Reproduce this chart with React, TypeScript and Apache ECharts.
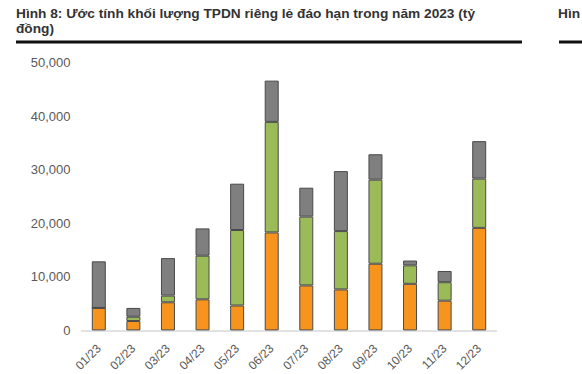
import React, { useEffect, useRef } from "react";
import * as echarts from "echarts";

const categories = ["01/23", "02/23", "03/23", "04/23", "05/23", "06/23", "07/23", "08/23", "09/23", "10/23", "11/23", "12/23"];
const orangeValues = [4200, 1750, 5250, 5800, 4650, 18300, 8400, 7650, 12450, 8700, 5550, 19150];
const greenValues = [0, 800, 1250, 8150, 14100, 20650, 12850, 10900, 15700, 3450, 3450, 9200];
const grayValues = [8700, 1650, 7000, 5100, 8650, 7700, 5400, 11200, 4750, 900, 2100, 7000];
const yTicks = [0, 10000, 20000, 30000, 40000, 50000];

const titleText = "Hình 8: Ước tính khối lượng TPDN riêng lẻ đáo hạn trong năm 2023 (tỷ\nđồng)";
const sideTitle = "Hìn";

export default function App() {
  const ref = useRef<HTMLDivElement>(null);
  useEffect(() => {
    if (!ref.current) return;
    const chart = echarts.init(ref.current, null, { renderer: "svg" });
    const border = { borderColor: "#4a4a4a", borderWidth: 1 };
    chart.setOption({
      animation: false,
      backgroundColor: "#ffffff",
      graphic: [
        {
          type: "text",
          left: 16,
          top: 6,
          style: {
            text: titleText,
            font: "bold 13.7px 'Liberation Sans', Arial, sans-serif",
            fill: "#333333",
            lineHeight: 15,
          },
        },
        {
          type: "text",
          left: 558,
          top: 6,
          style: {
            text: sideTitle,
            font: "bold 13.7px 'Liberation Sans', Arial, sans-serif",
            fill: "#333333",
          },
        },
        {
          type: "rect",
          shape: { x: 16, y: 40.5, width: 506, height: 3 },
          style: { fill: "#111111" },
        },
        {
          type: "rect",
          shape: { x: 559, y: 40.5, width: 30, height: 3 },
          style: { fill: "#111111" },
        },
      ],
      grid: { left: 81.5, right: 85.5, top: 62.7, bottom: 35.7, containLabel: false },
      xAxis: {
        type: "category",
        data: categories,
        axisLine: { lineStyle: { color: "#d9d9d9", width: 1.5 } },
        axisTick: { show: false },
        axisLabel: {
          rotate: 45,
          interval: 0,
          margin: 16,
          color: "#595959",
          fontSize: 12,
          fontFamily: "'Liberation Sans', Arial, sans-serif",
        },
      },
      yAxis: {
        type: "value",
        min: yTicks[0],
        max: yTicks[yTicks.length - 1],
        interval: 10000,
        splitLine: { show: false },
        axisLine: { show: false },
        axisTick: { show: false },
        axisLabel: {
          margin: 11,
          color: "#595959",
          fontSize: 13,
          fontFamily: "'Liberation Sans', Arial, sans-serif",
          formatter: (v: number) => v.toLocaleString("en-US"),
        },
      },
      series: [
        { type: "bar", stack: "t", data: orangeValues, barWidth: 14, itemStyle: { color: "#f7941d", ...border } },
        { type: "bar", stack: "t", data: greenValues, barWidth: 14, itemStyle: { color: "#9bbb59", ...border } },
        { type: "bar", stack: "t", data: grayValues, barWidth: 14, itemStyle: { color: "#7f7f7f", ...border } },
      ],
    });
    return () => chart.dispose();
  }, []);
  return <div ref={ref} style={{ position: "fixed", left: 0, top: 0, width: 582, height: 374 }} />;
}
